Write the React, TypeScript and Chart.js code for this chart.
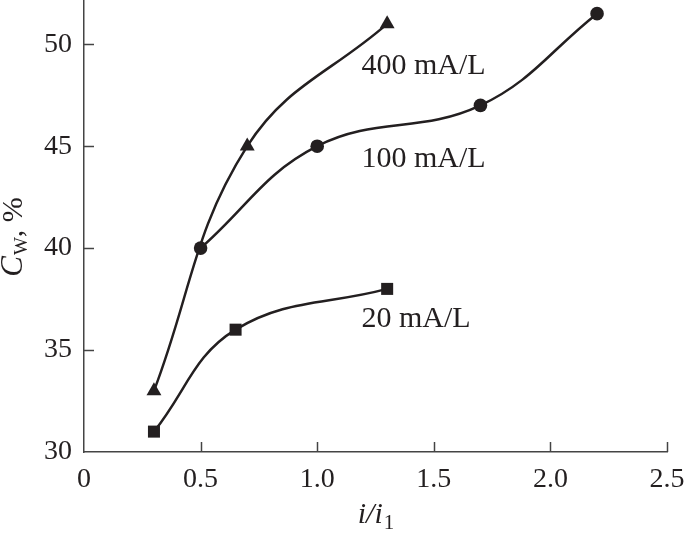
import React, { useEffect, useRef } from "react";
import { Chart, registerables } from "chart.js";

Chart.register(...registerables);

// ---- data ----
const x20 = [0.3, 0.65, 1.3];
const y20 = [31, 36, 38];
const x100 = [0.5, 1.0, 1.7, 2.2];
const y100 = [40, 45, 47, 51.5];
const x400 = [0.3, 0.7, 1.3];
const y400 = [33, 45, 51];

const xTicks = [0, 0.5, 1.0, 1.5, 2.0, 2.5];
const yTicks = [30, 35, 40, 45, 50];

const seriesLabels = ["20 mA/L", "100 mA/L", "400 mA/L"];
// annotation anchor positions in data units (left x, baseline y)
const labelX = [1.19, 1.19, 1.19];
const labelY = [36.15, 44.0, 48.55];

const INK = "#231f20";
const SERIF = "'Liberation Serif', 'Times New Roman', serif";

const zip = (xs: number[], ys: number[]) => xs.map((x, i) => ({ x, y: ys[i] }));

const customDraw = {
  id: "customDraw",
  afterDraw(chart: any) {
    const { ctx, chartArea, scales } = chart;
    const xs = scales.x;
    const ys = scales.y;
    ctx.save();
    // inward tick marks
    ctx.strokeStyle = "#444";
    ctx.lineWidth = 1.5;
    xTicks.forEach((v) => {
      if (v === 0) return;
      const px = Math.round(xs.getPixelForValue(v)) + 0.5;
      ctx.beginPath();
      ctx.moveTo(px, chartArea.bottom);
      ctx.lineTo(px, chartArea.bottom - 10);
      ctx.stroke();
    });
    yTicks.forEach((v) => {
      if (v === 30) return;
      const py = Math.round(ys.getPixelForValue(v)) + 0.5;
      ctx.beginPath();
      ctx.moveTo(chartArea.left, py);
      ctx.lineTo(chartArea.left + 10, py);
      ctx.stroke();
    });

    // series annotations
    ctx.fillStyle = INK;
    ctx.font = `30px ${SERIF}`;
    ctx.textBaseline = "alphabetic";
    ctx.textAlign = "left";
    seriesLabels.forEach((t, i) => {
      ctx.fillText(t, xs.getPixelForValue(labelX[i]), ys.getPixelForValue(labelY[i]));
    });

    // x axis title: i/i1
    {
      const big = `italic 30px ${SERIF}`;
      const small = `21px ${SERIF}`;
      ctx.font = big;
      const w1 = ctx.measureText("i/i").width;
      ctx.font = small;
      const w2 = ctx.measureText("1").width;
      const total = w1 + w2;
      const cx = (chartArea.left + chartArea.right) / 2;
      const x0 = cx - total / 2;
      const base = 523;
      ctx.font = big;
      ctx.fillText("i/i", x0, base);
      ctx.font = small;
      ctx.fillText("1", x0 + w1 + 1, base + 6);
    }

    // y axis title: C_W, %
    {
      ctx.translate(22, 237);
      ctx.rotate(-Math.PI / 2);
      const fC = `italic 31px ${SERIF}`;
      const fW = `19px ${SERIF}`;
      const fR = `30px ${SERIF}`;
      ctx.font = fC;
      const wC = ctx.measureText("C").width;
      ctx.font = fW;
      const wW = ctx.measureText("W").width;
      ctx.font = fR;
      const wR = ctx.measureText(", %").width;
      const total = wC + wW + wR + 1;
      let x0 = -total / 2;
      ctx.font = fC;
      ctx.fillText("C", x0, 0);
      x0 += wC + 1;
      ctx.font = fW;
      ctx.fillText("W", x0, 5);
      x0 += wW;
      ctx.font = fR;
      ctx.fillText(", %", x0, 0);
    }
    ctx.restore();
  },
};

export default function App() {
  const ref = useRef<HTMLCanvasElement | null>(null);
  useEffect(() => {
    if (!ref.current) return;
    const common = {
      borderColor: INK,
      backgroundColor: INK,
      borderWidth: 2.5,
      pointBorderWidth: 0,
      tension: 0.4,
      fill: false,
      clip: false,
    };
    const chart = new Chart(ref.current, {
      type: "line",
      data: {
        datasets: [
          { ...common, label: seriesLabels[0], data: zip(x20, y20), pointStyle: "rect", pointRadius: 8.5 },
          { ...common, label: seriesLabels[1], data: zip(x100, y100), pointStyle: "circle", pointRadius: 6.8 },
          { ...common, label: seriesLabels[2], data: zip(x400, y400), pointStyle: "triangle", pointRadius: 8.6 },
        ],
      },
      options: {
        animation: false,
        responsive: false,
        devicePixelRatio: 1,
        layout: { autoPadding: false, padding: { left: 0, right: 18, top: 0, bottom: 0 } },
        plugins: { legend: { display: false }, tooltip: { enabled: false } },
        scales: {
          x: {
            type: "linear",
            min: 0,
            max: 2.5,
            afterBuildTicks: (s: any) => {
              s.ticks = xTicks.map((v) => ({ value: v }));
            },
            afterFit: (s: any) => {
              s.height = 86;
              s.paddingLeft = 0;
              s.paddingRight = 0;
            },
            ticks: {
              padding: 11,
              color: INK,
              font: { family: SERIF, size: 28 },
              callback: (v: any) => (Number(v) === 0 ? "0" : Number(v).toFixed(1)),
              maxRotation: 0,
              autoSkip: false,
            },
            grid: { display: false, drawTicks: false },
            border: { display: true, color: "#444", width: 1.5 },
          },
          y: {
            type: "linear",
            min: 30,
            max: 52.17,
            afterBuildTicks: (s: any) => {
              s.ticks = yTicks.map((v) => ({ value: v }));
            },
            afterFit: (s: any) => {
              s.width = 84;
              s.paddingTop = 0;
              s.paddingBottom = 0;
            },
            ticks: {
              padding: 12,
              color: INK,
              font: { family: SERIF, size: 28 },
              autoSkip: false,
            },
            grid: { display: false, drawTicks: false },
            border: { display: true, color: "#444", width: 1.5 },
          },
        },
      },
      plugins: [customDraw],
    } as any);
    return () => chart.destroy();
  }, []);
  return (
    <div style={{ position: "fixed", left: 0, top: 0, width: 685, height: 538, background: "#fff" }}>
      <canvas ref={ref} width={685} height={538} style={{ display: "block" }} />
    </div>
  );
}
